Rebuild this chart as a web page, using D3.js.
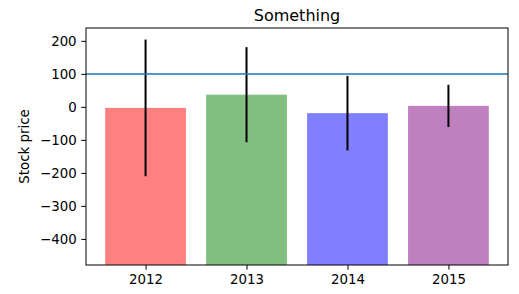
<!DOCTYPE html>
<html>
<head>
<meta charset="utf-8">
<script src="https://cdn.jsdelivr.net/npm/d3@7"></script>
<style>
  body { margin: 0; background: #fff; }
  text { font-family: "DejaVu Sans", sans-serif; fill: #000; }
</style>
</head>
<body>
<div id="chart"></div>
<script>
var years = ['2012', '2013', '2014', '2015'];
var prices = [-3, 37, -19, 3];
var errors = [207, 144, 113, 64];
var barColors = ['#ff8080', '#80bf80', '#8080ff', '#bf80bf'];
var yTicks = [-400, -300, -200, -100, 0, 100, 200];
var refLine = 100;

var svgWidth = 519, svgHeight = 294;
var margin = {top: 28, right: 11, bottom: 29, left: 86};
var width = svgWidth - margin.left - margin.right;
var height = svgHeight - margin.top - margin.bottom;

var svg = d3.select('#chart').append('svg')
    .attr('width', svgWidth)
    .attr('height', svgHeight);

var g = svg.append('g')
    .attr('transform', `translate(${margin.left}, ${margin.top})`);

// Scales
var xScale = d3.scaleLinear()
    .domain([-0.59, 3.59])
    .range([0, width]);

var yScale = d3.scaleLinear()
    .domain([-479, 239])
    .range([height, 0]);

var barW = xScale(0.8) - xScale(0);

// Bars
g.selectAll('.bar')
    .data(prices)
    .enter()
    .append('rect')
    .attr('x', (d, i) => xScale(i) - barW / 2)
    .attr('y', d => yScale(d))
    .attr('width', barW)
    .attr('height', d => height - yScale(d))
    .attr('fill', (d, i) => barColors[i]);

// Error bars
g.selectAll('.err')
    .data(prices)
    .enter()
    .append('line')
    .attr('x1', (d, i) => xScale(i))
    .attr('x2', (d, i) => xScale(i))
    .attr('y1', (d, i) => yScale(d + errors[i]))
    .attr('y2', (d, i) => yScale(d - errors[i]))
    .attr('stroke', '#000')
    .attr('stroke-width', 2);

// Reference line
g.append('line')
    .attr('x1', 0)
    .attr('x2', width)
    .attr('y1', yScale(refLine))
    .attr('y2', yScale(refLine))
    .attr('stroke', '#1f77b4')
    .attr('stroke-width', 1.5);

// Axes
var xAxis = d3.axisBottom(xScale)
    .tickValues([0, 1, 2, 3])
    .tickFormat(i => years[i])
    .tickSize(4.7)
    .tickPadding(4.7);
var yAxis = d3.axisLeft(yScale)
    .tickValues(yTicks)
    .tickFormat(d => d < 0 ? '\u2212' + Math.abs(d) : d)
    .tickSize(4.7)
    .tickPadding(4.7);

var xg = g.append('g')
    .attr('transform', `translate(0, ${height})`)
    .call(xAxis);
var yg = g.append('g').call(yAxis);

[xg, yg].forEach(a => {
    a.select('.domain').remove();
    a.selectAll('text').style('font-size', '13.33px').style('font-family', '"DejaVu Sans", sans-serif');
    a.selectAll('line').attr('stroke', '#000').attr('stroke-width', 1);
});

// Frame
g.append('rect')
    .attr('width', width)
    .attr('height', height)
    .attr('fill', 'none')
    .attr('stroke', '#000')
    .attr('stroke-width', 1);

// Labels
svg.append('text')
    .attr('x', margin.left + width / 2)
    .attr('y', 21)
    .attr('text-anchor', 'middle')
    .style('font-size', '16px')
    .text('Something');

svg.append('text')
    .attr('transform', `translate(29, ${margin.top + height / 2}) rotate(-90)`)
    .attr('text-anchor', 'middle')
    .style('font-size', '13.33px')
    .text('Stock price');
</script>
</body>
</html>
